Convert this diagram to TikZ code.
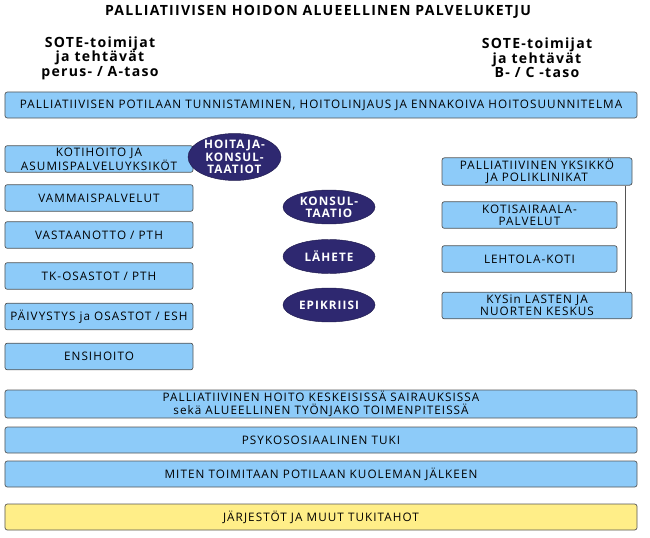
\documentclass[tikz,border=0pt]{standalone}
\usepackage{fontspec}
\setmainfont{Open Sans}[LetterSpace=9]
\usepackage{tikz}
\usetikzlibrary{shapes.geometric, positioning, calc}

\definecolor{boxblue}{HTML}{8DCBF9}
\definecolor{boxyellow}{HTML}{FFEE88}
\definecolor{navy}{HTML}{2E2870}
\definecolor{edgegray}{HTML}{555555}

\begin{document}
\begin{tikzpicture}[
        x=0.03cm, y=-0.03cm,
        box/.style={rectangle, draw=edgegray, fill=boxblue, line width=0.6pt, rounded corners=2pt, align=center, font=\fontsize{10}{10.5}\selectfont, minimum height=0.8cm, inner sep=1pt},
        lbox/.style={box, minimum width=5.64cm},
        rbox/.style={box, minimum width=5.25cm},
        wbox/.style={box, minimum width=18.96cm},
        oval/.style={ellipse, fill=navy, draw=navy!70!black, text=white, align=center, inner sep=0pt, minimum width=2.76cm, minimum height=1.02cm, font=\bfseries\fontsize{10}{10.5}\selectfont},
        head/.style={align=center, font=\bfseries\fontsize{12}{12.5}\selectfont}
    ]
        \useasboundingbox (0,0) rectangle (650,538);

        % Otsikot
        \node[head] (title) at (318,12) {PALLIATIIVISEN HOIDON ALUEELLINEN PALVELUKETJU};
        \node[head] (headA) at (100,58) {SOTE-toimijat\\ja tehtävät\\perus- / A-taso};
        \node[head] (headB) at (537,58) {SOTE-toimijat\\ja tehtävät\\B- / C -taso};

        % Yhteinen ylärivi
        \node[wbox, minimum height=0.78cm] (tunnist) at (321,105) {PALLIATIIVISEN POTILAAN TUNNISTAMINEN, HOITOLINJAUS JA ENNAKOIVA HOITOSUUNNITELMA};

        % Perustaso
        \node[lbox] (koti) at (99,159) {KOTIHOITO JA\\ASUMISPALVELUYKSIKÖT};
        \node[lbox] (vamm) at (99,198) {VAMMAISPALVELUT};
        \node[lbox] (vast) at (99,235) {VASTAANOTTO / PTH};
        \node[lbox] (tk) at (99,276) {TK-OSASTOT / PTH};
        \node[lbox] (paiv) at (99,316.5) {PÄIVYSTYS ja OSASTOT / ESH};
        \node[lbox] (ensi) at (99,356.5) {ENSIHOITO};

        % Yhteydet
        \node[oval, minimum width=2.79cm, minimum height=1.26cm] (hoitaja) at (234.5,157) {HOITAJA-\\KONSUL-\\TAATIOT};
        \node[oval] (konsul) at (329,207) {KONSUL-\\TAATIO};
        \node[oval] (lahete) at (329,256.5) {LÄHETE};
        \node[oval] (epikr) at (329,305) {EPIKRIISI};

        % B- / C-taso
        \node[box, minimum width=5.7cm] (pal) at (537,171.5) {PALLIATIIVINEN YKSIKKÖ\\JA POLIKLINIKAT};
        \node[rbox] (kotis) at (529.5,215) {KOTISAIRAALA-\\PALVELUT};
        \node[rbox] (lehto) at (529.5,259) {LEHTOLA-KOTI};
        \node[box, minimum width=5.7cm] (kys) at (537,305.5) {KYSin LASTEN JA\\NUORTEN KESKUS};
        \draw[edgegray, line width=0.6pt] ([xshift=-0.21cm]pal.south east) -- ([xshift=-0.21cm]kys.north east);

        % Alarivit
        \node[wbox, minimum height=0.84cm] (sair) at (321,404) {PALLIATIIVINEN HOITO KESKEISISSÄ SAIRAUKSISSA\\sekä ALUEELLINEN TYÖNJAKO TOIMENPITEISSÄ};
        \node[wbox, minimum height=0.78cm] (psyk) at (321,440) {PSYKOSOSIAALINEN TUKI};
        \node[wbox, minimum height=0.78cm] (kuol) at (321,474) {MITEN TOIMITAAN POTILAAN KUOLEMAN JÄLKEEN};
        \node[wbox, minimum height=0.78cm, fill=boxyellow] (jarj) at (321,517) {JÄRJESTÖT JA MUUT TUKITAHOT};

    \end{tikzpicture}
\end{document}
